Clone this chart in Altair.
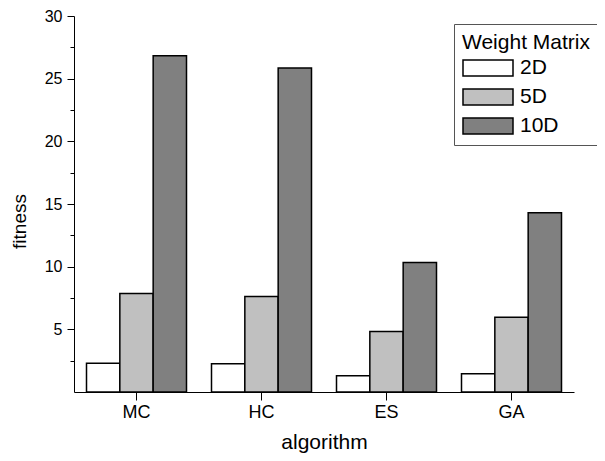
import altair as alt
import pandas as pd

algorithms = ["MC", "HC", "ES", "GA"]
series = ["2D", "5D", "10D"]
fit_2d = [2.3, 2.25, 1.3, 1.45]
fit_5d = [7.85, 7.62, 4.82, 5.97]
fit_10d = [26.83, 25.85, 10.33, 14.31]
colors = ["#ffffff", "#c0c0c0", "#808080"]
major_ticks = [5, 10, 15, 20, 25, 30]
minor_ticks = [2.5, 7.5, 12.5, 17.5, 22.5, 27.5]

rows = []
for s, vals in zip(series, [fit_2d, fit_5d, fit_10d]):
    for a, v in zip(algorithms, vals):
        rows.append({"algorithm": a, "series": s, "fitness": v})
df = pd.DataFrame(rows)
minor_df = pd.DataFrame({"v": minor_ticks})

FONT = "Liberation Sans"
yscale = alt.Scale(domain=[0, 30], nice=False, zero=True)

bars = alt.Chart(df).mark_bar(stroke="black", strokeWidth=1.5).encode(
    x=alt.X(
        "algorithm:N",
        sort=algorithms,
        scale=alt.Scale(paddingInner=0.2, paddingOuter=0.1),
        axis=alt.Axis(
            title="algorithm", labelAngle=0, labelFontSize=18, labelFont=FONT,
            labelColor="black", tickSize=8, tickColor="black", labelPadding=3,
            domainColor="black", titleFontSize=21, titleFont=FONT, titleColor="black",
            titleFontWeight="normal", titleBaseline="alphabetic", titleY=56,
        ),
    ),
    xOffset=alt.XOffset("series:N", sort=series),
    y=alt.Y(
        "fitness:Q",
        scale=yscale,
        axis=alt.Axis(
            orient="left", values=major_ticks, title="fitness", grid=False,
            labelFontSize=16, labelFont=FONT, labelColor="black", tickSize=7,
            tickColor="black", labelPadding=5, domainColor="black",
            titleFontSize=19, titleFont=FONT, titleColor="black",
            titleFontWeight="normal", titleBaseline="alphabetic", titleAngle=-90,
            titleX=-49, titleY=205, titleAlign="center",
        ),
    ),
    fill=alt.Fill(
        "series:N",
        sort=series,
        scale=alt.Scale(domain=series, range=colors),
        legend=alt.Legend(
            title="Weight Matrix", orient="none", legendX=380, legendY=8,
            titleFontSize=21, titleFont=FONT, titleColor="black",
            titleFontWeight="normal", labelFontSize=21, labelFont=FONT,
            labelColor="black", symbolType="M-1,-0.8H4V0.8H-1Z", symbolSize=400,
            symbolStrokeColor="black", symbolStrokeWidth=1.5, symbolFillColor="white",
            labelOffset=36, rowPadding=7, padding=8, strokeColor="#555555",
            titlePadding=4, symbolOpacity=1,
        ),
    ),
)

minor = alt.Chart(minor_df).mark_point(opacity=0).encode(
    y=alt.Y(
        "v:Q",
        scale=yscale,
        axis=alt.Axis(
            orient="left", values=minor_ticks, labels=False, domain=False,
            grid=False, tickSize=4, tickColor="black", title=None,
        ),
    ),
)

chart = alt.layer(bars, minor).resolve_axis(y="independent").properties(
    width=500,
    height=376,
    autosize="none",
    padding={"left": 66, "top": 8, "right": 23, "bottom": 61},
).configure_view(stroke=None)

chart.save("out.html", embed_options={"renderer": "svg", "actions": False})
